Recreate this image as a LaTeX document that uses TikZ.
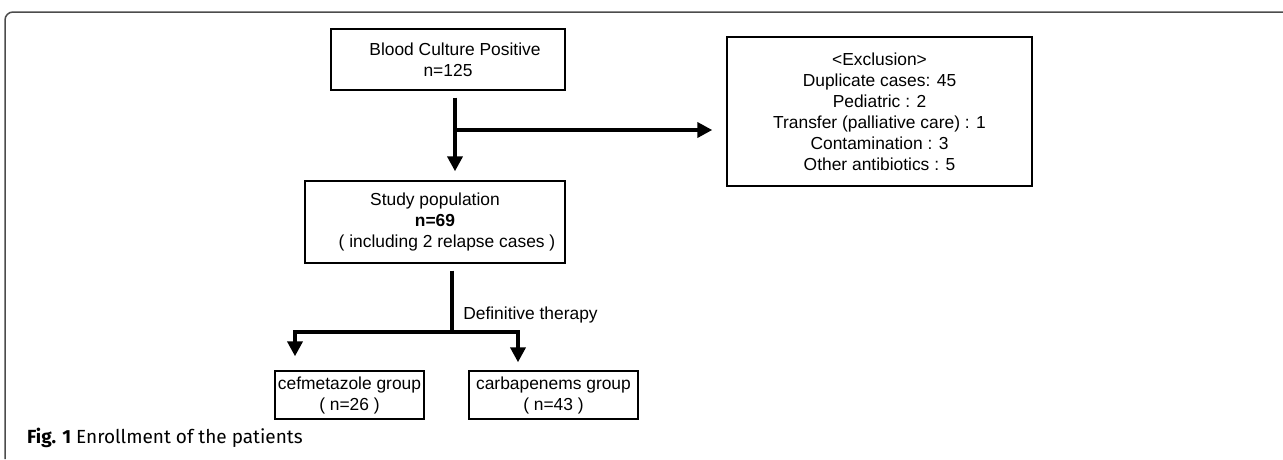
\documentclass[tikz,border=0pt]{standalone}
\usepackage{fontspec}
\setmainfont{Liberation Sans}
\newfontfamily\capfont{Fira Sans}
\usetikzlibrary{arrows.meta}
\begin{document}
\begin{tikzpicture}[x=1pt,y=-1pt]
\tikzset{box/.style={draw, line width=1.4pt, align=center, inner sep=1pt, font=\fontsize{17.4}{21}\selectfont}}
\tikzset{flow/.style={line width=4.5pt, -{Triangle[length=15pt,width=15pt]}}}
\useasboundingbox (0,0) rectangle (1283,459);
\draw [black!70, line width=1.5pt, rounded corners=8pt] (5,459) -- (5,12) -- (1283,12);
\node [box, minimum width=234pt, minimum height=61pt] (blood) at (448,59.5) {\hspace*{14pt}Blood Culture Positive\\n=125};
\node [box, minimum width=305pt, minimum height=149pt] (excl) at (879.5,111.5) {<Exclusion>\\Duplicate cases: 45\\Pediatric : 2\\Transfer (palliative care) : 1\\Contamination : 3\\Other antibiotics : 5};
\node [box, minimum width=260pt, minimum height=82pt] (study) at (435,222) {Study population\\\textbf{n=69}\\\hspace*{24pt}( including 2 relapse cases )};
\node [box, minimum width=149pt, minimum height=48pt] (cef) at (349.5,395) {cefmetazole group\\( n=26 )};
\node [box, minimum width=169pt, minimum height=48pt] (carb) at (553.5,395) {carbapenems group\\( n=43 )};
\node [font=\fontsize{17.4}{21}\selectfont] (defthr) at (530.5,315) {Definitive therapy};
\node [anchor=west, inner sep=0pt, font=\capfont\fontsize{19}{23}\selectfont] (cap) at (27,438) {\textbf{Fig. 1} Enrollment of the patients};
% exclusion branch
\coordinate (j1) at (455,130);
\draw [flow, shorten <=7pt, shorten >=9pt] (blood.south -| j1) -- (study.north -| j1);
\draw [flow, shorten >=14pt] (j1) -- (j1 -| excl.west);
% therapy groups
\coordinate (j2) at (452,332);
\coordinate (jl) at (295,332);
\coordinate (jr) at (518,332);
\draw [line width=4.5pt, shorten <=7pt] (study.south -| j2) -- (j2);
\draw [flow, shorten >=14pt] (j2) -| (jl |- cef.north);
\draw [flow, shorten >=8pt] (j2) -| (jr |- carb.north);
\end{tikzpicture}
\end{document}
